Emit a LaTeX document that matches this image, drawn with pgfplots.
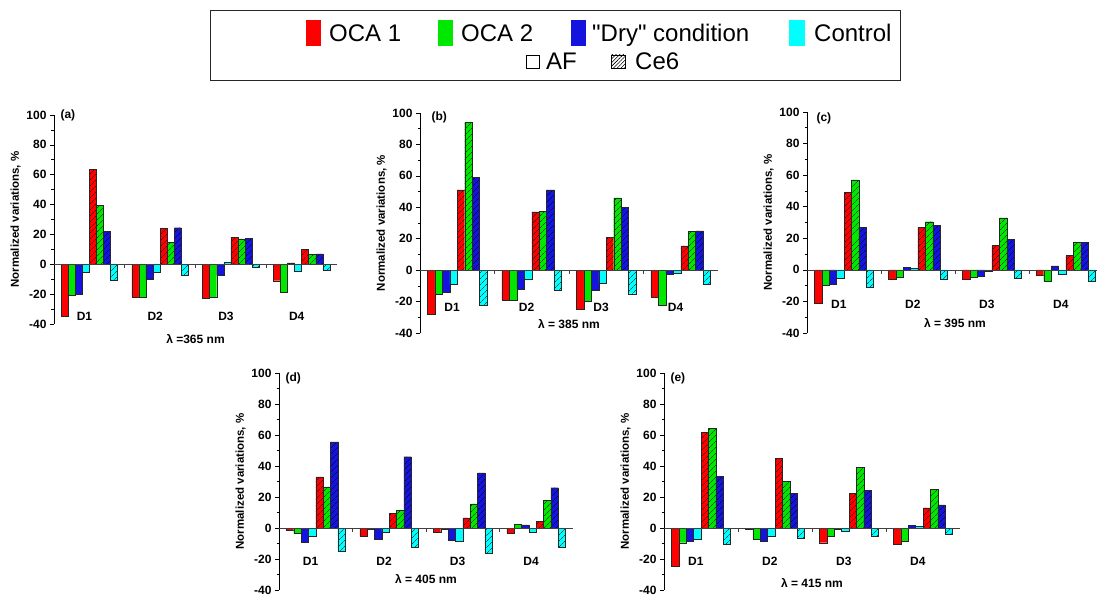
\documentclass[border=0pt]{standalone}
\usepackage{fontspec}
\setmainfont{Liberation Sans}[Ligatures=TeXOff]
\usepackage{pgfplots}
\usepackage{pgfplotstable}
\pgfplotsset{compat=1.18}
\usetikzlibrary{patterns,patterns.meta}
\definecolor{cRed}{RGB}{255,0,0}
\definecolor{cGreen}{RGB}{0,232,0}
\definecolor{cBlue}{RGB}{20,20,222}
\definecolor{cCyan}{RGB}{0,255,255}

% columns: group, AF (OCA1, OCA2, Dry, Control), Ce6 (OCA1, OCA2, Dry, Control)
\pgfplotstableread{
g a1 a2 a3 a4 c1 c2 c3 c4
1 -35 -21 -20 -5.5 63.5 39.5 22 -10.5
2 -22 -22 -10 -5.5 24 14.5 24.5 -7.5
3 -22.5 -22 -7.5 1.5 18 17 17.5 -2
4 -11 -19 1 -4.5 10 6.5 7 -4
}\tabA
\pgfplotstableread{
g a1 a2 a3 a4 c1 c2 c3 c4
1 -28 -15.5 -14 -9 51 94 59 -22.5
2 -19 -19 -12 -6 37 37.5 51 -13
3 -25 -20 -12.5 -8.5 21 46 40 -15
4 -17 -22.5 -2.5 -2 15.5 24.5 25 -9
}\tabB
\pgfplotstableread{
g a1 a2 a3 a4 c1 c2 c3 c4
1 -21 -10 -9 -5.5 49 57 27 -11
2 -6 -4.5 1.5 1 27 30.5 28 -6
3 -6 -4.5 -4 -1 15.5 33 19.5 -5.5
4 -3.5 -7 2.5 -2.5 9 17.5 17.5 -7.5
}\tabC
\pgfplotstableread{
g a1 a2 a3 a4 c1 c2 c3 c4
1 -1.5 -3.5 -9 -5.5 33 26.5 55.5 -15
2 -5.5 -0.5 -7 -2.5 9.5 11.5 46 -12.5
3 -2.5 -0.5 -8 -8.5 6.5 15.5 35.5 -16
4 -3.5 2.5 2 -2.5 4.5 18 26 -12.5
}\tabD
\pgfplotstableread{
g a1 a2 a3 a4 c1 c2 c3 c4
1 -24.5 -9.5 -8.5 -7 61.5 64.5 33.5 -10.5
2 -1 -7.5 -8.5 -5 45 30 22.5 -6.5
3 -9.5 -5 -1 -2 22.5 39 24.5 -5
4 -10.5 -8.5 1.5 1 13 25 15 -4
}\tabE

\newcommand{\lblfont}{\fontsize{12}{14}\selectfont\bfseries}

\pgfplotsset{
  panel/.style={
    scale only axis,
    anchor=south west,
    axis x line=none, axis y line=left,
    axis line style={-, black, line width=0.6pt},
    xmin=0.5, xmax=4.5, ymin=-40, ymax=100,
    ytick={-40,-20,...,100}, minor y tick num=1,
    xtick=\empty,
    tick align=outside, major tick length=4pt, minor tick length=2.5pt,
    tick style={black, line width=0.6pt},
    ybar, bar width=0.1,
    ylabel={Normalized variations, \%},
    ylabel style={font=\fontsize{11.5}{13}\selectfont\bfseries, yshift=-1pt},
    yticklabel style={font=\lblfont},
    /pgf/number format/assume math mode=true,
    clip=false,
  },
  af/.style={draw=black!85, line width=0.4pt, fill=#1},
  ce/.style={draw=black!85, line width=0.4pt, fill=#1,
     postaction={pattern={Lines[angle=45,distance=4pt,line width=0.45pt]}, pattern color=black}},
}

\newcommand{\bars}[1]{%
  \addplot[af=cRed,   bar shift=-0.35] table[x=g,y=a1]{#1};
  \addplot[af=cGreen, bar shift=-0.25] table[x=g,y=a2]{#1};
  \addplot[af=cBlue,  bar shift=-0.15] table[x=g,y=a3]{#1};
  \addplot[af=cCyan,  bar shift=-0.05] table[x=g,y=a4]{#1};
  \addplot[ce=cRed,   bar shift=0.05] table[x=g,y=c1]{#1};
  \addplot[ce=cGreen, bar shift=0.15] table[x=g,y=c2]{#1};
  \addplot[ce=cBlue,  bar shift=0.25] table[x=g,y=c3]{#1};
  \addplot[ce=cCyan,  bar shift=0.35] table[x=g,y=c4]{#1};
  \draw[black!75, line width=0.6pt] (axis cs:0.5,0) -- (axis cs:\pgfkeysvalueof{/pgfplots/xmax},0);
  \draw[black!75, line width=0.6pt] (axis cs:1.5,0) -- ++(0pt,-4pt);
  \draw[black!75, line width=0.6pt] (axis cs:2.5,0) -- ++(0pt,-4pt);
  \draw[black!75, line width=0.6pt] (axis cs:3.5,0) -- ++(0pt,-4pt);
}
\newcommand{\dlabels}[1]{%
  \node[font=\lblfont] at (axis cs:0.93,#1) {D1};
  \node[font=\lblfont] at (axis cs:1.93,#1) {D2};
  \node[font=\lblfont] at (axis cs:2.93,#1) {D3};
  \node[font=\lblfont] at (axis cs:3.93,#1) {D4};
}

\begin{document}
\begin{tikzpicture}
\useasboundingbox (0,0) rectangle (1097pt,597pt);

% legend
\draw[black!85, line width=0.8pt] (210pt,587pt) rectangle (900pt,517pt);
\begin{scope}[every node/.style={font=\fontsize{24}{26}\selectfont, inner sep=0pt, anchor=base west}]
  \fill[cRed]   (306pt,577pt) rectangle (321pt,551pt);
  \node at (329pt,555pt) {OCA 1};
  \fill[cGreen] (438pt,577pt) rectangle (453pt,551pt);
  \node at (461pt,555pt) {OCA 2};
  \fill[cBlue]  (571pt,577pt) rectangle (586pt,551pt);
  \node at (592pt,555pt) {"Dry" condition};
  \fill[cCyan]  (789pt,577pt) rectangle (805pt,551pt);
  \node at (814pt,555pt) {Control};
  \draw[black, line width=0.9pt] (526pt,542pt) rectangle (539pt,529pt);
  \node at (546pt,527pt) {AF};
  \draw[black, line width=0.9pt, pattern={Lines[angle=45,distance=2.6pt,line width=0.6pt]}, pattern color=black] (611pt,542pt) rectangle (625pt,529pt);
  \node at (635pt,527pt) {Ce6};
\end{scope}

% (a)
\begin{axis}[panel, at={(54pt,273pt)}, width=283pt, height=209pt]
\bars{\tabA}
\dlabels{-35}
\node[font=\lblfont] at (axis cs:2.5,-50) {λ =365 nm};
\node[font=\lblfont, anchor=west] at (axis cs:0.5,100) [xshift=3pt] {(a)};
\end{axis}

% (b)
\begin{axis}[panel, at={(420pt,264pt)}, width=298pt, height=220pt]
\bars{\tabB}
\dlabels{-23.5}
\node[font=\lblfont] at (axis cs:2.5,-34) {λ = 385 nm};
\node[font=\lblfont, anchor=west] at (axis cs:0.5,97) [xshift=8pt] {(b)};
\end{axis}

% (c)
\begin{axis}[panel, at={(807pt,264pt)}, width=290pt, height=221pt, xmax=4.42]
\bars{\tabC}
\dlabels{-22}
\node[font=\lblfont] at (axis cs:2.5,-33.5) {λ = 395 nm};
\node[font=\lblfont, anchor=west] at (axis cs:0.5,96) [xshift=6pt] {(c)};
\end{axis}

% (d)
\begin{axis}[panel, at={(279pt,7pt)}, width=294pt, height=217pt]
\bars{\tabD}
\dlabels{-21.7}
\node[font=\lblfont] at (axis cs:2.5,-33) {λ = 405 nm};
\node[font=\lblfont, anchor=west] at (axis cs:0.5,96.5) [xshift=3pt] {(d)};
\end{axis}

% (e)
\begin{axis}[panel, at={(664pt,7pt)}, width=296pt, height=217pt]
\bars{\tabE}
\dlabels{-21.7}
\node[font=\lblfont] at (axis cs:2.5,-35.5) {λ = 415 nm};
\node[font=\lblfont, anchor=west] at (axis cs:0.5,96.5) [xshift=3pt] {(e)};
\end{axis}
\end{tikzpicture}
\end{document}
